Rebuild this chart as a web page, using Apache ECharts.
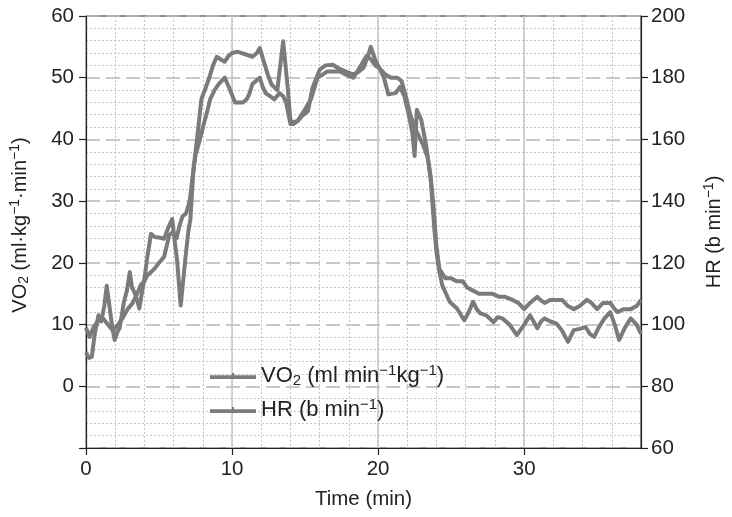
<!DOCTYPE html>
<html>
<head>
<meta charset="utf-8">
<script src="https://cdn.jsdelivr.net/npm/echarts@6/dist/echarts.min.js"></script>
<style>
  html, body { margin: 0; padding: 0; background: #fff; }
  #chart { width: 732px; height: 517px; }
</style>
</head>
<body>
<div id="chart"></div>
<script>
// Oxygen uptake (ml·kg⁻¹·min⁻¹) over time (min)
const vo2Time = [0, 0.2, 0.4, 0.6, 0.85, 1.05, 1.25, 1.42, 1.6, 1.8, 1.96, 2.15, 2.3, 2.6, 2.8, 3.0, 3.15, 3.3, 3.5, 3.65,
  3.85, 4.0, 4.2, 4.45, 4.7, 5.0, 5.35, 5.6, 5.9, 6.1, 6.25, 6.48, 6.65, 6.8, 7.0, 7.15, 7.35, 7.6, 7.9, 8.4,
  8.7, 8.95, 9.2, 9.5, 9.75, 10.0, 10.4, 10.9, 11.4, 11.7, 11.9, 12.2, 12.45, 12.7, 13.1, 13.3, 13.5, 13.8, 14.0, 14.2,
  14.5, 14.8, 15.2, 15.5, 16.0, 16.4, 16.9, 17.3, 17.8, 18.3, 18.7, 19.0, 19.3, 19.5, 19.8, 20.1, 20.4, 20.7, 21.2, 21.5,
  21.8, 22.1, 22.35, 22.5, 22.65, 22.95, 23.3, 23.6, 23.85, 24.0, 24.2, 24.4, 24.9, 25.4, 25.9, 26.2, 26.5, 26.75, 27.0, 27.4,
  27.9, 28.2, 28.5, 29.0, 29.5, 30.0, 30.4, 30.65, 30.9, 31.15, 31.4, 31.8, 32.2, 32.6, 33.0, 33.4, 33.8, 34.2, 34.5, 34.8,
  35.1, 35.5, 35.9, 36.2, 36.5, 36.9, 37.3, 37.7, 38.0];
const vo2Values = [5.5, 4.6, 4.8, 8.5, 11.5, 10.5, 13, 16.3, 13.1, 9.5, 7.5, 8.8, 9.4, 13.7, 15.5, 18.5, 16, 15.3, 14, 12.6,
  15.5, 17.4, 21, 24.7, 24.2, 24.1, 23.9, 25.5, 27.1, 23, 20.1, 13.1, 17, 20.6, 25, 27.1, 35, 40, 46.5, 49.7,
  52, 53.4, 53, 52.6, 53.5, 54, 54.2, 53.8, 53.4, 54, 54.8, 52.4, 50.5, 48.9, 48, 52, 55.9, 48.6, 43, 42.8,
  43, 43.8, 44.6, 48.3, 51.3, 52, 52.1, 51.5, 51, 50.5, 51, 51.6, 53.5, 55, 52.9, 51.5, 50, 47.3, 47.5, 48.5,
  47, 44, 41, 37.3, 44.8, 43.2, 38.9, 33.5, 25.5, 21.7, 18.5, 16.3, 13.7, 12.6, 10.7, 12, 13.7, 12.5, 11.8, 11.5,
  10.4, 11.2, 11, 10, 8.3, 10, 11.5, 10.5, 9.4, 10.5, 11, 10.5, 10.2, 9, 7.2, 9.1, 9.3, 9.6, 8.5, 8,
  9.5, 11, 12, 10, 7.5, 9.5, 11, 10, 8.5];

// Heart rate (b min⁻¹) over time (min)
const hrTime = [0, 0.25, 0.5, 0.8, 1.17, 1.5, 1.85, 2.2, 2.5, 2.85, 3.2, 3.5, 3.77, 4.0, 4.2, 4.45, 4.67, 5.0, 5.35, 5.55,
  5.7, 5.95, 6.2, 6.4, 6.6, 6.85, 7.1, 7.3, 7.5, 7.8, 8.06, 8.3, 8.5, 8.8, 9.1, 9.5, 9.87, 10.2, 10.5, 10.75,
  11.0, 11.2, 11.4, 11.9, 12.1, 12.3, 12.6, 12.9, 13.25, 13.5, 13.7, 14.0, 14.2, 14.5, 14.9, 15.4, 15.85, 16.2, 16.5, 16.9,
  17.4, 17.8, 18.3, 18.7, 19.2, 19.5, 19.8, 20.1, 20.5, 20.9, 21.3, 21.6, 21.9, 22.2, 22.5, 22.8, 23.1, 23.4, 23.6, 23.8,
  24.0, 24.2, 24.6, 25.0, 25.4, 25.8, 26.1, 26.5, 26.9, 27.3, 27.8, 28.3, 28.7, 29.2, 29.6, 30.0, 30.4, 30.9, 31.1, 31.4,
  31.8, 32.2, 32.6, 33.0, 33.4, 33.8, 34.3, 34.6, 35.0, 35.4, 35.9, 36.2, 36.4, 36.8, 37.3, 37.7, 38.0];
const hrValues = [99, 96, 99, 101, 102, 100, 98, 100, 102, 105, 107, 110, 113, 114, 116, 117, 118, 120, 122, 126,
  129, 130, 128, 132, 135, 136, 140, 148, 155, 160, 165, 169, 173, 176, 178, 180, 176, 172, 172, 172,
  173, 175, 178, 180, 177, 175, 174, 173, 175, 174, 172, 165, 165, 166, 169, 173, 180, 181, 182, 182,
  182, 181, 180, 183, 187, 186, 184, 183, 181, 180, 180, 179, 174, 168, 164, 161, 158, 154, 148, 138,
  125, 118, 115, 115, 114, 114, 112, 111, 110, 110, 110, 109, 109, 108, 107, 105, 107, 109, 108, 107,
  108, 108, 108, 106, 105, 106, 108, 107, 105, 107, 107, 105, 104, 105, 105, 106, 108];

const xMajorTicks = [0, 10, 20, 30];

const vo2Data = vo2Time.map((t, i) => [t, vo2Values[i]]);
const hrData = hrTime.map((t, i) => [t, hrValues[i]]);

const FONT = 'Liberation Sans, Arial, Helvetica, sans-serif';
const INK = '#222';
const LINE = '#7b7b7e';
const scriptStyles = size => ({
  sub: { fontSize: size, fontFamily: FONT, color: INK, padding: [Math.round(size * 0.6), 0, 0, 0] },
  sup: { fontSize: size, fontFamily: FONT, color: INK, padding: [0, 0, Math.round(size * 0.7), 0] }
});

const chart = echarts.init(document.getElementById('chart'), null, { renderer: 'canvas' });

chart.setOption({
  animation: false,
  backgroundColor: '#fff',
  grid: {
    left: 86, right: 85, top: 16, bottom: 69,
    show: true, borderColor: INK, borderWidth: 1, backgroundColor: 'transparent'
  },
  legend: {
    orient: 'vertical',
    left: 205, top: 358,
    itemWidth: 46, itemHeight: 6,
    itemGap: 9,
    icon: 'path://M0,2.2h46v3.6H0z M22,0h2v2.2h-2z',
    textStyle: { fontSize: 22, fontFamily: FONT, color: INK, rich: scriptStyles(15) },
    formatter: name => name === 'VO2'
      ? 'VO{sub|2} (ml min{sup|−1}kg{sup|−1})'
      : 'HR (b min{sup|−1})'
  },
  xAxis: [
    {
      // fine dotted grid every 2 min
      type: 'value', min: 0, max: 38, interval: 2,
      axisLine: { show: false }, axisTick: { show: false }, axisLabel: { show: false },
      splitLine: { show: true, lineStyle: { color: '#c4c4c4', width: 1, type: [2, 2] } }
    },
    {
      type: 'value', min: 0, max: 38, interval: 10, position: 'bottom',
      name: 'Time (min)', nameLocation: 'middle', nameGap: 41,
      nameTextStyle: { fontSize: 20.5, fontFamily: FONT, color: INK },
      axisLine: { show: true, onZero: false, lineStyle: { color: INK, width: 1.2 } },
      axisTick: { show: true, inside: false, length: 7, customValues: xMajorTicks, lineStyle: { color: INK, width: 1.2 } },
      axisLabel: { show: true, customValues: xMajorTicks, fontSize: 20.5, fontFamily: FONT, color: INK, margin: 11 },
      splitLine: { show: true, lineStyle: { color: '#c4c4c4', width: 1.5, type: 'solid' } }
    }
  ],
  yAxis: [
    {
      type: 'value', min: -10, max: 60, interval: 10, position: 'left',
      name: 'VO{sub|2} (ml·kg{sup|−1}·min{sup|−1})', nameLocation: 'middle', nameGap: 54, nameRotate: 90,
      nameTextStyle: { fontSize: 20, fontFamily: FONT, color: INK, rich: scriptStyles(14), padding: [0, 0, 0, 14] },
      axisLine: { show: true, onZero: false, lineStyle: { color: INK, width: 1.2 } },
      axisTick: { show: true, inside: false, length: 7, lineStyle: { color: INK, width: 1.2 } },
      axisLabel: { fontSize: 20.5, fontFamily: FONT, color: INK, margin: 12,
        formatter: v => (v === -10 ? '' : String(v)) },
      splitLine: { show: true, lineStyle: { color: '#b8b8b8', width: 1.5, type: [14, 6] } },
      minorTick: { show: false, splitNumber: 5 },
      minorSplitLine: { show: true, lineStyle: { color: '#c4c4c4', width: 1, type: [2, 2] } }
    },
    {
      type: 'value', min: 60, max: 200, interval: 20, position: 'right',
      name: 'HR (b min{sup|−1})', nameLocation: 'middle', nameGap: 61, nameRotate: 90,
      nameTextStyle: { fontSize: 20, fontFamily: FONT, color: INK, rich: scriptStyles(14) },
      axisLine: { show: true, onZero: false, lineStyle: { color: INK, width: 1.2 } },
      axisTick: { show: true, inside: false, length: 7, lineStyle: { color: INK, width: 1.2 } },
      axisLabel: { fontSize: 20.5, fontFamily: FONT, color: INK, margin: 10 },
      splitLine: { show: false }
    }
  ],
  series: [
    {
      name: 'VO2', type: 'line', xAxisIndex: 1, yAxisIndex: 0,
      data: vo2Data, showSymbol: false, symbol: 'none',
      lineStyle: { color: LINE, width: 4, join: 'round' }, itemStyle: { color: LINE }
    },
    {
      name: 'HR', type: 'line', xAxisIndex: 1, yAxisIndex: 1,
      data: hrData, showSymbol: false, symbol: 'none',
      lineStyle: { color: LINE, width: 4, join: 'round' }, itemStyle: { color: LINE }
    }
  ]
});
</script>
</body>
</html>
